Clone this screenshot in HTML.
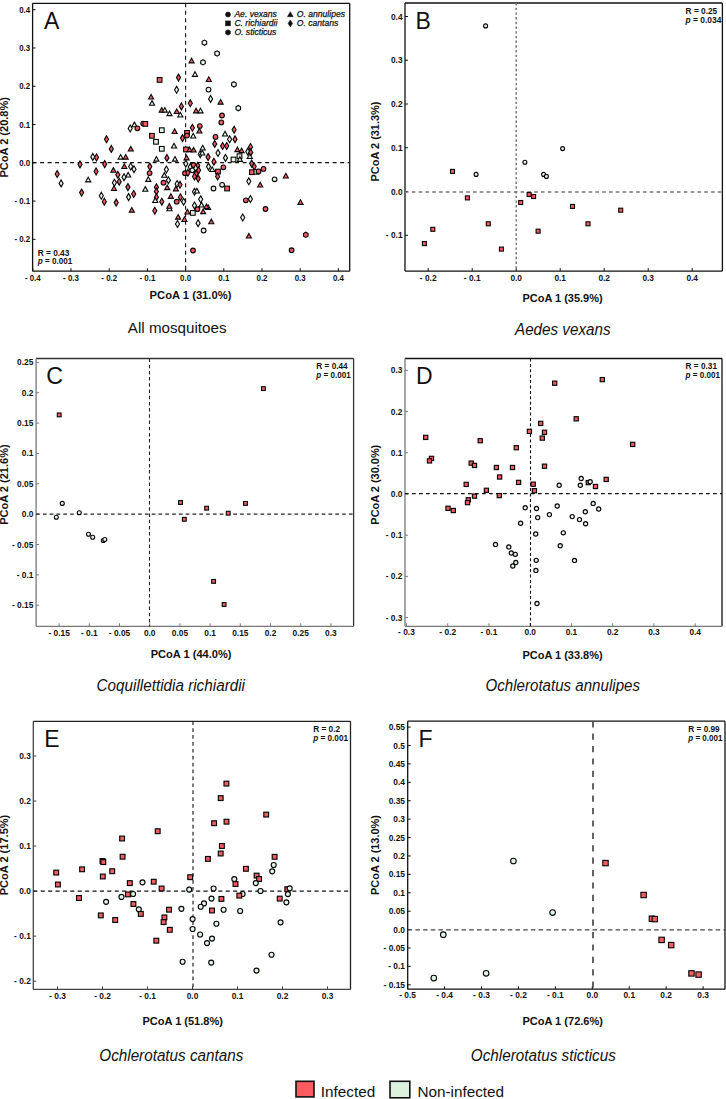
<!DOCTYPE html>
<html><head><meta charset="utf-8"><style>
html,body{margin:0;padding:0;background:#fff;width:726px;height:1099px;overflow:hidden}
svg{display:block;font-family:"Liberation Sans",sans-serif}
</style></head><body>
<svg width="726" height="1099" viewBox="0 0 726 1099">
<rect width="726" height="1099" fill="#fff"/>
<line x1="32.6" y1="3.3" x2="349.7" y2="3.3" stroke="#111" stroke-width="1.3"/>
<line x1="349.7" y1="3.3" x2="349.7" y2="271.2" stroke="#111" stroke-width="1.3"/>
<line x1="32.6" y1="271.2" x2="349.7" y2="271.2" stroke="#111" stroke-width="1.3"/>
<line x1="32.6" y1="3.3" x2="32.6" y2="271.2" stroke="#111" stroke-width="1.3"/>
<line x1="32.8" y1="271.2" x2="32.8" y2="268.2" stroke="#111" stroke-width="1.0"/>
<text transform="translate(32.8,280.9) scale(0.93,1)" font-size="8.5" font-weight="bold" text-anchor="middle" fill="#111">- 0.4</text>
<line x1="71" y1="271.2" x2="71" y2="268.2" stroke="#111" stroke-width="1.0"/>
<text transform="translate(71,280.9) scale(0.93,1)" font-size="8.5" font-weight="bold" text-anchor="middle" fill="#111">- 0.3</text>
<line x1="109.2" y1="271.2" x2="109.2" y2="268.2" stroke="#111" stroke-width="1.0"/>
<text transform="translate(109.2,280.9) scale(0.93,1)" font-size="8.5" font-weight="bold" text-anchor="middle" fill="#111">- 0.2</text>
<line x1="147.4" y1="271.2" x2="147.4" y2="268.2" stroke="#111" stroke-width="1.0"/>
<text transform="translate(147.4,280.9) scale(0.93,1)" font-size="8.5" font-weight="bold" text-anchor="middle" fill="#111">- 0.1</text>
<line x1="185.6" y1="271.2" x2="185.6" y2="268.2" stroke="#111" stroke-width="1.0"/>
<text transform="translate(185.6,280.9) scale(0.93,1)" font-size="8.5" font-weight="bold" text-anchor="middle" fill="#111">0.0</text>
<line x1="223.8" y1="271.2" x2="223.8" y2="268.2" stroke="#111" stroke-width="1.0"/>
<text transform="translate(223.8,280.9) scale(0.93,1)" font-size="8.5" font-weight="bold" text-anchor="middle" fill="#111">0.1</text>
<line x1="262" y1="271.2" x2="262" y2="268.2" stroke="#111" stroke-width="1.0"/>
<text transform="translate(262,280.9) scale(0.93,1)" font-size="8.5" font-weight="bold" text-anchor="middle" fill="#111">0.2</text>
<line x1="300.2" y1="271.2" x2="300.2" y2="268.2" stroke="#111" stroke-width="1.0"/>
<text transform="translate(300.2,280.9) scale(0.93,1)" font-size="8.5" font-weight="bold" text-anchor="middle" fill="#111">0.3</text>
<line x1="338.4" y1="271.2" x2="338.4" y2="268.2" stroke="#111" stroke-width="1.0"/>
<text transform="translate(338.4,280.9) scale(0.93,1)" font-size="8.5" font-weight="bold" text-anchor="middle" fill="#111">0.4</text>
<line x1="32.6" y1="239.34" x2="35.6" y2="239.34" stroke="#111" stroke-width="1.0"/>
<text transform="translate(30.2,242.34) scale(0.93,1)" font-size="8.5" font-weight="bold" text-anchor="end" fill="#111">- 0.2</text>
<line x1="32.6" y1="201.07" x2="35.6" y2="201.07" stroke="#111" stroke-width="1.0"/>
<text transform="translate(30.2,204.07) scale(0.93,1)" font-size="8.5" font-weight="bold" text-anchor="end" fill="#111">- 0.1</text>
<line x1="32.6" y1="162.8" x2="35.6" y2="162.8" stroke="#111" stroke-width="1.0"/>
<text transform="translate(30.2,165.8) scale(0.93,1)" font-size="8.5" font-weight="bold" text-anchor="end" fill="#111">0.0</text>
<line x1="32.6" y1="124.53" x2="35.6" y2="124.53" stroke="#111" stroke-width="1.0"/>
<text transform="translate(30.2,127.53) scale(0.93,1)" font-size="8.5" font-weight="bold" text-anchor="end" fill="#111">0.1</text>
<line x1="32.6" y1="86.26" x2="35.6" y2="86.26" stroke="#111" stroke-width="1.0"/>
<text transform="translate(30.2,89.26) scale(0.93,1)" font-size="8.5" font-weight="bold" text-anchor="end" fill="#111">0.2</text>
<line x1="32.6" y1="47.99" x2="35.6" y2="47.99" stroke="#111" stroke-width="1.0"/>
<text transform="translate(30.2,50.99) scale(0.93,1)" font-size="8.5" font-weight="bold" text-anchor="end" fill="#111">0.3</text>
<line x1="32.6" y1="9.72" x2="35.6" y2="9.72" stroke="#111" stroke-width="1.0"/>
<text transform="translate(30.2,12.72) scale(0.93,1)" font-size="8.5" font-weight="bold" text-anchor="end" fill="#111">0.4</text>
<line x1="185.6" y1="3.3" x2="185.6" y2="271.2" stroke="#111" stroke-width="1.1" stroke-dasharray="4,3.5"/>
<line x1="32.6" y1="162.6" x2="349.7" y2="162.6" stroke="#111" stroke-width="1.1" stroke-dasharray="4,3.5"/>
<text x="43.9" y="28.9" font-size="23" font-weight="normal" font-style="normal" text-anchor="start" fill="#111" >A</text>
<text x="37.7" y="255.8" font-size="8.5" font-weight="bold" fill="#111" textLength="31.7" lengthAdjust="spacingAndGlyphs">R = 0.43</text>
<text x="37.7" y="264.3" font-size="8.5" font-weight="bold" fill="#111" textLength="34.7" lengthAdjust="spacingAndGlyphs"><tspan font-style="italic">p</tspan> = 0.001</text>
<text x="149.6" y="299.3" font-size="10.5" font-weight="bold" fill="#111" textLength="81.8" lengthAdjust="spacingAndGlyphs">PCoA 1 (31.0%)</text>
<text transform="translate(8.3,137.3) rotate(-90)" x="0" y="0" font-size="10.5" font-weight="bold" fill="#111" text-anchor="middle" textLength="80.5" lengthAdjust="spacingAndGlyphs">PCoA 2 (20.8%)</text>
<text x="127.8" y="332.8" font-size="15" font-style="normal" fill="#111" textLength="98.7" lengthAdjust="spacingAndGlyphs">All mosquitoes</text>
<line x1="405.0" y1="3.0" x2="722.4" y2="3.0" stroke="#111" stroke-width="1.3"/>
<line x1="722.4" y1="3.0" x2="722.4" y2="271.1" stroke="#111" stroke-width="1.3"/>
<line x1="405.0" y1="271.1" x2="722.4" y2="271.1" stroke="#111" stroke-width="1.3"/>
<line x1="405.0" y1="3.0" x2="405.0" y2="271.1" stroke="#111" stroke-width="1.3"/>
<line x1="428.2" y1="271.1" x2="428.2" y2="268.1" stroke="#111" stroke-width="1.0"/>
<text transform="translate(428.2,280.5) scale(0.93,1)" font-size="9.0" font-weight="bold" text-anchor="middle" fill="#111">- 0.2</text>
<line x1="472.2" y1="271.1" x2="472.2" y2="268.1" stroke="#111" stroke-width="1.0"/>
<text transform="translate(472.2,280.5) scale(0.93,1)" font-size="9.0" font-weight="bold" text-anchor="middle" fill="#111">- 0.1</text>
<line x1="516.2" y1="271.1" x2="516.2" y2="268.1" stroke="#111" stroke-width="1.0"/>
<text transform="translate(516.2,280.5) scale(0.93,1)" font-size="9.0" font-weight="bold" text-anchor="middle" fill="#111">0.0</text>
<line x1="560.2" y1="271.1" x2="560.2" y2="268.1" stroke="#111" stroke-width="1.0"/>
<text transform="translate(560.2,280.5) scale(0.93,1)" font-size="9.0" font-weight="bold" text-anchor="middle" fill="#111">0.1</text>
<line x1="604.2" y1="271.1" x2="604.2" y2="268.1" stroke="#111" stroke-width="1.0"/>
<text transform="translate(604.2,280.5) scale(0.93,1)" font-size="9.0" font-weight="bold" text-anchor="middle" fill="#111">0.2</text>
<line x1="648.2" y1="271.1" x2="648.2" y2="268.1" stroke="#111" stroke-width="1.0"/>
<text transform="translate(648.2,280.5) scale(0.93,1)" font-size="9.0" font-weight="bold" text-anchor="middle" fill="#111">0.3</text>
<line x1="692.2" y1="271.1" x2="692.2" y2="268.1" stroke="#111" stroke-width="1.0"/>
<text transform="translate(692.2,280.5) scale(0.93,1)" font-size="9.0" font-weight="bold" text-anchor="middle" fill="#111">0.4</text>
<line x1="405.0" y1="235.25" x2="408" y2="235.25" stroke="#111" stroke-width="1.0"/>
<text transform="translate(402.6,238.25) scale(0.93,1)" font-size="9.0" font-weight="bold" text-anchor="end" fill="#111">- 0.1</text>
<line x1="405.0" y1="191.5" x2="408" y2="191.5" stroke="#111" stroke-width="1.0"/>
<text transform="translate(402.6,194.5) scale(0.93,1)" font-size="9.0" font-weight="bold" text-anchor="end" fill="#111">0.0</text>
<line x1="405.0" y1="147.75" x2="408" y2="147.75" stroke="#111" stroke-width="1.0"/>
<text transform="translate(402.6,150.75) scale(0.93,1)" font-size="9.0" font-weight="bold" text-anchor="end" fill="#111">0.1</text>
<line x1="405.0" y1="104" x2="408" y2="104" stroke="#111" stroke-width="1.0"/>
<text transform="translate(402.6,107) scale(0.93,1)" font-size="9.0" font-weight="bold" text-anchor="end" fill="#111">0.2</text>
<line x1="405.0" y1="60.25" x2="408" y2="60.25" stroke="#111" stroke-width="1.0"/>
<text transform="translate(402.6,63.25) scale(0.93,1)" font-size="9.0" font-weight="bold" text-anchor="end" fill="#111">0.3</text>
<line x1="405.0" y1="16.5" x2="408" y2="16.5" stroke="#111" stroke-width="1.0"/>
<text transform="translate(402.6,19.5) scale(0.93,1)" font-size="9.0" font-weight="bold" text-anchor="end" fill="#111">0.4</text>
<line x1="516.2" y1="3.0" x2="516.2" y2="271.1" stroke="#777" stroke-width="1.5" stroke-dasharray="2.4,2.3"/>
<line x1="405.0" y1="192" x2="722.4" y2="192" stroke="#777" stroke-width="1.6" stroke-dasharray="3.6,3.2"/>
<text x="415.6" y="28.9" font-size="23" font-weight="normal" font-style="normal" text-anchor="start" fill="#111" >B</text>
<text x="685.6" y="13.8" font-size="8.5" font-weight="bold" fill="#111" textLength="31.6" lengthAdjust="spacingAndGlyphs">R = 0.25</text>
<text x="685.6" y="22.7" font-size="8.5" font-weight="bold" fill="#111" textLength="35.8" lengthAdjust="spacingAndGlyphs"><tspan font-style="italic">p</tspan> = 0.034</text>
<text x="522.4" y="301.6" font-size="10.5" font-weight="bold" fill="#111" textLength="80.3" lengthAdjust="spacingAndGlyphs">PCoA 1 (35.9%)</text>
<text transform="translate(378.6,141.5) rotate(-90)" x="0" y="0" font-size="10.5" font-weight="bold" fill="#111" text-anchor="middle" textLength="79.9" lengthAdjust="spacingAndGlyphs">PCoA 2 (31.3%)</text>
<text x="515" y="335.3" font-size="16.3" font-style="italic" fill="#111" textLength="95.5" lengthAdjust="spacingAndGlyphs">Aedes vexans</text>
<line x1="36.1" y1="358.5" x2="353.6" y2="358.5" stroke="#333" stroke-width="1.3"/>
<line x1="353.6" y1="358.5" x2="353.6" y2="626.3" stroke="#333" stroke-width="1.3"/>
<line x1="36.1" y1="626.3" x2="353.6" y2="626.3" stroke="#777" stroke-width="1.3"/>
<line x1="36.1" y1="358.5" x2="36.1" y2="626.3" stroke="#777" stroke-width="1.3"/>
<line x1="59.1" y1="626.3" x2="59.1" y2="623.3" stroke="#777" stroke-width="1.0"/>
<text transform="translate(59.1,635.5) scale(0.93,1)" font-size="9.0" font-weight="bold" text-anchor="middle" fill="#111">- 0.15</text>
<line x1="89.3" y1="626.3" x2="89.3" y2="623.3" stroke="#777" stroke-width="1.0"/>
<text transform="translate(89.3,635.5) scale(0.93,1)" font-size="9.0" font-weight="bold" text-anchor="middle" fill="#111">- 0.1</text>
<line x1="119.5" y1="626.3" x2="119.5" y2="623.3" stroke="#777" stroke-width="1.0"/>
<text transform="translate(119.5,635.5) scale(0.93,1)" font-size="9.0" font-weight="bold" text-anchor="middle" fill="#111">- 0.05</text>
<line x1="149.7" y1="626.3" x2="149.7" y2="623.3" stroke="#777" stroke-width="1.0"/>
<text transform="translate(149.7,635.5) scale(0.93,1)" font-size="9.0" font-weight="bold" text-anchor="middle" fill="#111">0.0</text>
<line x1="179.9" y1="626.3" x2="179.9" y2="623.3" stroke="#777" stroke-width="1.0"/>
<text transform="translate(179.9,635.5) scale(0.93,1)" font-size="9.0" font-weight="bold" text-anchor="middle" fill="#111">0.05</text>
<line x1="210.1" y1="626.3" x2="210.1" y2="623.3" stroke="#777" stroke-width="1.0"/>
<text transform="translate(210.1,635.5) scale(0.93,1)" font-size="9.0" font-weight="bold" text-anchor="middle" fill="#111">0.1</text>
<line x1="240.3" y1="626.3" x2="240.3" y2="623.3" stroke="#777" stroke-width="1.0"/>
<text transform="translate(240.3,635.5) scale(0.93,1)" font-size="9.0" font-weight="bold" text-anchor="middle" fill="#111">0.15</text>
<line x1="270.5" y1="626.3" x2="270.5" y2="623.3" stroke="#777" stroke-width="1.0"/>
<text transform="translate(270.5,635.5) scale(0.93,1)" font-size="9.0" font-weight="bold" text-anchor="middle" fill="#111">0.2</text>
<line x1="300.7" y1="626.3" x2="300.7" y2="623.3" stroke="#777" stroke-width="1.0"/>
<text transform="translate(300.7,635.5) scale(0.93,1)" font-size="9.0" font-weight="bold" text-anchor="middle" fill="#111">0.25</text>
<line x1="330.9" y1="626.3" x2="330.9" y2="623.3" stroke="#777" stroke-width="1.0"/>
<text transform="translate(330.9,635.5) scale(0.93,1)" font-size="9.0" font-weight="bold" text-anchor="middle" fill="#111">0.3</text>
<line x1="36.1" y1="605.2" x2="39.1" y2="605.2" stroke="#777" stroke-width="1.0"/>
<text transform="translate(33.4,608.2) scale(0.93,1)" font-size="9.0" font-weight="bold" text-anchor="end" fill="#111">- 0.15</text>
<line x1="36.1" y1="574.85" x2="39.1" y2="574.85" stroke="#777" stroke-width="1.0"/>
<text transform="translate(33.4,577.85) scale(0.93,1)" font-size="9.0" font-weight="bold" text-anchor="end" fill="#111">- 0.1</text>
<line x1="36.1" y1="544.5" x2="39.1" y2="544.5" stroke="#777" stroke-width="1.0"/>
<text transform="translate(33.4,547.5) scale(0.93,1)" font-size="9.0" font-weight="bold" text-anchor="end" fill="#111">- 0.05</text>
<line x1="36.1" y1="514.15" x2="39.1" y2="514.15" stroke="#777" stroke-width="1.0"/>
<text transform="translate(33.4,517.15) scale(0.93,1)" font-size="9.0" font-weight="bold" text-anchor="end" fill="#111">0.0</text>
<line x1="36.1" y1="483.8" x2="39.1" y2="483.8" stroke="#777" stroke-width="1.0"/>
<text transform="translate(33.4,486.8) scale(0.93,1)" font-size="9.0" font-weight="bold" text-anchor="end" fill="#111">0.05</text>
<line x1="36.1" y1="453.45" x2="39.1" y2="453.45" stroke="#777" stroke-width="1.0"/>
<text transform="translate(33.4,456.45) scale(0.93,1)" font-size="9.0" font-weight="bold" text-anchor="end" fill="#111">0.1</text>
<line x1="36.1" y1="423.1" x2="39.1" y2="423.1" stroke="#777" stroke-width="1.0"/>
<text transform="translate(33.4,426.1) scale(0.93,1)" font-size="9.0" font-weight="bold" text-anchor="end" fill="#111">0.15</text>
<line x1="36.1" y1="392.75" x2="39.1" y2="392.75" stroke="#777" stroke-width="1.0"/>
<text transform="translate(33.4,395.75) scale(0.93,1)" font-size="9.0" font-weight="bold" text-anchor="end" fill="#111">0.2</text>
<line x1="36.1" y1="362.4" x2="39.1" y2="362.4" stroke="#777" stroke-width="1.0"/>
<text transform="translate(33.4,365.4) scale(0.93,1)" font-size="9.0" font-weight="bold" text-anchor="end" fill="#111">0.25</text>
<line x1="149.5" y1="358.5" x2="149.5" y2="626.3" stroke="#222" stroke-width="1.1" stroke-dasharray="3.5,2.7"/>
<line x1="36.1" y1="514.1" x2="353.6" y2="514.1" stroke="#222" stroke-width="1.1" stroke-dasharray="3.7,3.1"/>
<text x="46.3" y="384.2" font-size="23.2" font-weight="normal" font-style="normal" text-anchor="start" fill="#111" >C</text>
<text x="316.3" y="368.9" font-size="8.5" font-weight="bold" fill="#111" textLength="31.4" lengthAdjust="spacingAndGlyphs">R = 0.44</text>
<text x="316.3" y="378.4" font-size="8.5" font-weight="bold" fill="#111" textLength="34.5" lengthAdjust="spacingAndGlyphs"><tspan font-style="italic">p</tspan> = 0.001</text>
<text x="150.7" y="658.4" font-size="10.5" font-weight="bold" fill="#111" textLength="80.8" lengthAdjust="spacingAndGlyphs">PCoA 1 (44.0%)</text>
<text transform="translate(8.3,484.6) rotate(-90)" x="0" y="0" font-size="10.5" font-weight="bold" fill="#111" text-anchor="middle" textLength="80.5" lengthAdjust="spacingAndGlyphs">PCoA 2 (21.6%)</text>
<text x="96.5" y="691.2" font-size="16.3" font-style="italic" fill="#111" textLength="148.5" lengthAdjust="spacingAndGlyphs">Coquillettidia richiardii</text>
<line x1="405.0" y1="358.5" x2="722.0" y2="358.5" stroke="#111" stroke-width="1.3"/>
<line x1="722.0" y1="358.5" x2="722.0" y2="626.3" stroke="#111" stroke-width="1.3"/>
<line x1="405.0" y1="626.3" x2="722.0" y2="626.3" stroke="#777" stroke-width="1.3"/>
<line x1="405.0" y1="358.5" x2="405.0" y2="626.3" stroke="#777" stroke-width="1.3"/>
<line x1="406.45" y1="626.3" x2="406.45" y2="623.3" stroke="#777" stroke-width="1.0"/>
<text transform="translate(406.45,634.9) scale(0.93,1)" font-size="9.0" font-weight="bold" text-anchor="middle" fill="#111">- 0.3</text>
<line x1="447.7" y1="626.3" x2="447.7" y2="623.3" stroke="#777" stroke-width="1.0"/>
<text transform="translate(447.7,634.9) scale(0.93,1)" font-size="9.0" font-weight="bold" text-anchor="middle" fill="#111">- 0.2</text>
<line x1="488.95" y1="626.3" x2="488.95" y2="623.3" stroke="#777" stroke-width="1.0"/>
<text transform="translate(488.95,634.9) scale(0.93,1)" font-size="9.0" font-weight="bold" text-anchor="middle" fill="#111">- 0.1</text>
<line x1="530.2" y1="626.3" x2="530.2" y2="623.3" stroke="#777" stroke-width="1.0"/>
<text transform="translate(530.2,634.9) scale(0.93,1)" font-size="9.0" font-weight="bold" text-anchor="middle" fill="#111">0.0</text>
<line x1="571.45" y1="626.3" x2="571.45" y2="623.3" stroke="#777" stroke-width="1.0"/>
<text transform="translate(571.45,634.9) scale(0.93,1)" font-size="9.0" font-weight="bold" text-anchor="middle" fill="#111">0.1</text>
<line x1="612.7" y1="626.3" x2="612.7" y2="623.3" stroke="#777" stroke-width="1.0"/>
<text transform="translate(612.7,634.9) scale(0.93,1)" font-size="9.0" font-weight="bold" text-anchor="middle" fill="#111">0.2</text>
<line x1="653.95" y1="626.3" x2="653.95" y2="623.3" stroke="#777" stroke-width="1.0"/>
<text transform="translate(653.95,634.9) scale(0.93,1)" font-size="9.0" font-weight="bold" text-anchor="middle" fill="#111">0.3</text>
<line x1="695.2" y1="626.3" x2="695.2" y2="623.3" stroke="#777" stroke-width="1.0"/>
<text transform="translate(695.2,634.9) scale(0.93,1)" font-size="9.0" font-weight="bold" text-anchor="middle" fill="#111">0.4</text>
<line x1="405.0" y1="617.55" x2="408" y2="617.55" stroke="#777" stroke-width="1.0"/>
<text transform="translate(402.4,620.55) scale(0.93,1)" font-size="9.0" font-weight="bold" text-anchor="end" fill="#111">- 0.3</text>
<line x1="405.0" y1="576.35" x2="408" y2="576.35" stroke="#777" stroke-width="1.0"/>
<text transform="translate(402.4,579.35) scale(0.93,1)" font-size="9.0" font-weight="bold" text-anchor="end" fill="#111">- 0.2</text>
<line x1="405.0" y1="535.15" x2="408" y2="535.15" stroke="#777" stroke-width="1.0"/>
<text transform="translate(402.4,538.15) scale(0.93,1)" font-size="9.0" font-weight="bold" text-anchor="end" fill="#111">- 0.1</text>
<line x1="405.0" y1="493.95" x2="408" y2="493.95" stroke="#777" stroke-width="1.0"/>
<text transform="translate(402.4,496.95) scale(0.93,1)" font-size="9.0" font-weight="bold" text-anchor="end" fill="#111">0.0</text>
<line x1="405.0" y1="452.75" x2="408" y2="452.75" stroke="#777" stroke-width="1.0"/>
<text transform="translate(402.4,455.75) scale(0.93,1)" font-size="9.0" font-weight="bold" text-anchor="end" fill="#111">0.1</text>
<line x1="405.0" y1="411.55" x2="408" y2="411.55" stroke="#777" stroke-width="1.0"/>
<text transform="translate(402.4,414.55) scale(0.93,1)" font-size="9.0" font-weight="bold" text-anchor="end" fill="#111">0.2</text>
<line x1="405.0" y1="370.35" x2="408" y2="370.35" stroke="#777" stroke-width="1.0"/>
<text transform="translate(402.4,373.35) scale(0.93,1)" font-size="9.0" font-weight="bold" text-anchor="end" fill="#111">0.3</text>
<line x1="530.5" y1="358.5" x2="530.5" y2="626.3" stroke="#111" stroke-width="1.1" stroke-dasharray="3,2.4"/>
<line x1="405.0" y1="493.6" x2="722.0" y2="493.6" stroke="#111" stroke-width="1.1" stroke-dasharray="3.7,3.3"/>
<text x="416" y="383.9" font-size="23" font-weight="normal" font-style="normal" text-anchor="start" fill="#111" >D</text>
<text x="685.6" y="368.9" font-size="8.5" font-weight="bold" fill="#111" textLength="31.4" lengthAdjust="spacingAndGlyphs">R = 0.31</text>
<text x="685.6" y="378.4" font-size="8.5" font-weight="bold" fill="#111" textLength="34.5" lengthAdjust="spacingAndGlyphs"><tspan font-style="italic">p</tspan> = 0.001</text>
<text x="522.4" y="658.5" font-size="10.5" font-weight="bold" fill="#111" textLength="80.3" lengthAdjust="spacingAndGlyphs">PCoA 1 (33.8%)</text>
<text transform="translate(378.6,484.7) rotate(-90)" x="0" y="0" font-size="10.5" font-weight="bold" fill="#111" text-anchor="middle" textLength="79.9" lengthAdjust="spacingAndGlyphs">PCoA 2 (30.0%)</text>
<text x="485.5" y="691.2" font-size="16.3" font-style="italic" fill="#111" textLength="154.5" lengthAdjust="spacingAndGlyphs">Ochlerotatus annulipes</text>
<line x1="33.3" y1="721.3" x2="350.5" y2="721.3" stroke="#222" stroke-width="1.3"/>
<line x1="350.5" y1="721.3" x2="350.5" y2="989.4" stroke="#222" stroke-width="1.3"/>
<line x1="33.3" y1="989.4" x2="350.5" y2="989.4" stroke="#444" stroke-width="1.3"/>
<line x1="33.3" y1="721.3" x2="33.3" y2="989.4" stroke="#444" stroke-width="1.3"/>
<line x1="57.5" y1="989.4" x2="57.5" y2="986.4" stroke="#444" stroke-width="1.0"/>
<text transform="translate(57.5,998.8) scale(0.93,1)" font-size="9.0" font-weight="bold" text-anchor="middle" fill="#111">- 0.3</text>
<line x1="102.5" y1="989.4" x2="102.5" y2="986.4" stroke="#444" stroke-width="1.0"/>
<text transform="translate(102.5,998.8) scale(0.93,1)" font-size="9.0" font-weight="bold" text-anchor="middle" fill="#111">- 0.2</text>
<line x1="147.5" y1="989.4" x2="147.5" y2="986.4" stroke="#444" stroke-width="1.0"/>
<text transform="translate(147.5,998.8) scale(0.93,1)" font-size="9.0" font-weight="bold" text-anchor="middle" fill="#111">- 0.1</text>
<line x1="192.5" y1="989.4" x2="192.5" y2="986.4" stroke="#444" stroke-width="1.0"/>
<text transform="translate(192.5,998.8) scale(0.93,1)" font-size="9.0" font-weight="bold" text-anchor="middle" fill="#111">0.0</text>
<line x1="237.5" y1="989.4" x2="237.5" y2="986.4" stroke="#444" stroke-width="1.0"/>
<text transform="translate(237.5,998.8) scale(0.93,1)" font-size="9.0" font-weight="bold" text-anchor="middle" fill="#111">0.1</text>
<line x1="282.5" y1="989.4" x2="282.5" y2="986.4" stroke="#444" stroke-width="1.0"/>
<text transform="translate(282.5,998.8) scale(0.93,1)" font-size="9.0" font-weight="bold" text-anchor="middle" fill="#111">0.2</text>
<line x1="327.5" y1="989.4" x2="327.5" y2="986.4" stroke="#444" stroke-width="1.0"/>
<text transform="translate(327.5,998.8) scale(0.93,1)" font-size="9.0" font-weight="bold" text-anchor="middle" fill="#111">0.3</text>
<line x1="33.3" y1="981.18" x2="36.3" y2="981.18" stroke="#444" stroke-width="1.0"/>
<text transform="translate(30.8,984.18) scale(0.93,1)" font-size="9.0" font-weight="bold" text-anchor="end" fill="#111">- 0.2</text>
<line x1="33.3" y1="936.14" x2="36.3" y2="936.14" stroke="#444" stroke-width="1.0"/>
<text transform="translate(30.8,939.14) scale(0.93,1)" font-size="9.0" font-weight="bold" text-anchor="end" fill="#111">- 0.1</text>
<line x1="33.3" y1="891.1" x2="36.3" y2="891.1" stroke="#444" stroke-width="1.0"/>
<text transform="translate(30.8,894.1) scale(0.93,1)" font-size="9.0" font-weight="bold" text-anchor="end" fill="#111">0.0</text>
<line x1="33.3" y1="846.06" x2="36.3" y2="846.06" stroke="#444" stroke-width="1.0"/>
<text transform="translate(30.8,849.06) scale(0.93,1)" font-size="9.0" font-weight="bold" text-anchor="end" fill="#111">0.1</text>
<line x1="33.3" y1="801.02" x2="36.3" y2="801.02" stroke="#444" stroke-width="1.0"/>
<text transform="translate(30.8,804.02) scale(0.93,1)" font-size="9.0" font-weight="bold" text-anchor="end" fill="#111">0.2</text>
<line x1="33.3" y1="755.98" x2="36.3" y2="755.98" stroke="#444" stroke-width="1.0"/>
<text transform="translate(30.8,758.98) scale(0.93,1)" font-size="9.0" font-weight="bold" text-anchor="end" fill="#111">0.3</text>
<line x1="193" y1="721.3" x2="193" y2="989.4" stroke="#111" stroke-width="1.1" stroke-dasharray="3.7,3.2"/>
<line x1="33.3" y1="891.1" x2="350.5" y2="891.1" stroke="#111" stroke-width="1.1" stroke-dasharray="4.1,3.3"/>
<text x="44.2" y="747.2" font-size="23" font-weight="normal" font-style="normal" text-anchor="start" fill="#111" >E</text>
<text x="313.2" y="731.7" font-size="8.5" font-weight="bold" fill="#111" textLength="26.9" lengthAdjust="spacingAndGlyphs">R = 0.2</text>
<text x="313.2" y="741.2" font-size="8.5" font-weight="bold" fill="#111" textLength="34.8" lengthAdjust="spacingAndGlyphs"><tspan font-style="italic">p</tspan> = 0.001</text>
<text x="142.5" y="1025" font-size="10.5" font-weight="bold" fill="#111" textLength="80.4" lengthAdjust="spacingAndGlyphs">PCoA 1 (51.8%)</text>
<text transform="translate(8.3,855) rotate(-90)" x="0" y="0" font-size="10.5" font-weight="bold" fill="#111" text-anchor="middle" textLength="80.5" lengthAdjust="spacingAndGlyphs">PCoA 2 (17.5%)</text>
<text x="99.3" y="1060.8999999999999" font-size="16.3" font-style="italic" fill="#111" textLength="144" lengthAdjust="spacingAndGlyphs">Ochlerotatus cantans</text>
<line x1="407.7" y1="721.2" x2="725" y2="721.2" stroke="#111" stroke-width="1.3"/>
<line x1="725" y1="721.2" x2="725" y2="989.2" stroke="#111" stroke-width="1.3"/>
<line x1="407.7" y1="989.2" x2="725" y2="989.2" stroke="#111" stroke-width="1.3"/>
<line x1="407.7" y1="721.2" x2="407.7" y2="989.2" stroke="#111" stroke-width="1.3"/>
<line x1="407.6" y1="989.2" x2="407.6" y2="986.2" stroke="#111" stroke-width="1.0"/>
<text transform="translate(407.6,998.4) scale(0.93,1)" font-size="9.0" font-weight="bold" text-anchor="middle" fill="#111">- 0.5</text>
<line x1="444.54" y1="989.2" x2="444.54" y2="986.2" stroke="#111" stroke-width="1.0"/>
<text transform="translate(444.54,998.4) scale(0.93,1)" font-size="9.0" font-weight="bold" text-anchor="middle" fill="#111">- 0.4</text>
<line x1="481.48" y1="989.2" x2="481.48" y2="986.2" stroke="#111" stroke-width="1.0"/>
<text transform="translate(481.48,998.4) scale(0.93,1)" font-size="9.0" font-weight="bold" text-anchor="middle" fill="#111">- 0.3</text>
<line x1="518.42" y1="989.2" x2="518.42" y2="986.2" stroke="#111" stroke-width="1.0"/>
<text transform="translate(518.42,998.4) scale(0.93,1)" font-size="9.0" font-weight="bold" text-anchor="middle" fill="#111">- 0.2</text>
<line x1="555.36" y1="989.2" x2="555.36" y2="986.2" stroke="#111" stroke-width="1.0"/>
<text transform="translate(555.36,998.4) scale(0.93,1)" font-size="9.0" font-weight="bold" text-anchor="middle" fill="#111">- 0.1</text>
<line x1="592.3" y1="989.2" x2="592.3" y2="986.2" stroke="#111" stroke-width="1.0"/>
<text transform="translate(592.3,998.4) scale(0.93,1)" font-size="9.0" font-weight="bold" text-anchor="middle" fill="#111">0.0</text>
<line x1="629.24" y1="989.2" x2="629.24" y2="986.2" stroke="#111" stroke-width="1.0"/>
<text transform="translate(629.24,998.4) scale(0.93,1)" font-size="9.0" font-weight="bold" text-anchor="middle" fill="#111">0.1</text>
<line x1="666.18" y1="989.2" x2="666.18" y2="986.2" stroke="#111" stroke-width="1.0"/>
<text transform="translate(666.18,998.4) scale(0.93,1)" font-size="9.0" font-weight="bold" text-anchor="middle" fill="#111">0.2</text>
<line x1="703.12" y1="989.2" x2="703.12" y2="986.2" stroke="#111" stroke-width="1.0"/>
<text transform="translate(703.12,998.4) scale(0.93,1)" font-size="9.0" font-weight="bold" text-anchor="middle" fill="#111">0.3</text>
<line x1="407.7" y1="984.83" x2="410.7" y2="984.83" stroke="#111" stroke-width="1.0"/>
<text transform="translate(405.0,987.83) scale(0.93,1)" font-size="9.0" font-weight="bold" text-anchor="end" fill="#111">- 0.15</text>
<line x1="407.7" y1="966.42" x2="410.7" y2="966.42" stroke="#111" stroke-width="1.0"/>
<text transform="translate(405.0,969.42) scale(0.93,1)" font-size="9.0" font-weight="bold" text-anchor="end" fill="#111">- 0.1</text>
<line x1="407.7" y1="948.01" x2="410.7" y2="948.01" stroke="#111" stroke-width="1.0"/>
<text transform="translate(405.0,951.01) scale(0.93,1)" font-size="9.0" font-weight="bold" text-anchor="end" fill="#111">- 0.05</text>
<line x1="407.7" y1="929.6" x2="410.7" y2="929.6" stroke="#111" stroke-width="1.0"/>
<text transform="translate(405.0,932.6) scale(0.93,1)" font-size="9.0" font-weight="bold" text-anchor="end" fill="#111">0.0</text>
<line x1="407.7" y1="911.19" x2="410.7" y2="911.19" stroke="#111" stroke-width="1.0"/>
<text transform="translate(405.0,914.19) scale(0.93,1)" font-size="9.0" font-weight="bold" text-anchor="end" fill="#111">0.05</text>
<line x1="407.7" y1="892.78" x2="410.7" y2="892.78" stroke="#111" stroke-width="1.0"/>
<text transform="translate(405.0,895.78) scale(0.93,1)" font-size="9.0" font-weight="bold" text-anchor="end" fill="#111">0.1</text>
<line x1="407.7" y1="874.37" x2="410.7" y2="874.37" stroke="#111" stroke-width="1.0"/>
<text transform="translate(405.0,877.37) scale(0.93,1)" font-size="9.0" font-weight="bold" text-anchor="end" fill="#111">0.15</text>
<line x1="407.7" y1="855.96" x2="410.7" y2="855.96" stroke="#111" stroke-width="1.0"/>
<text transform="translate(405.0,858.96) scale(0.93,1)" font-size="9.0" font-weight="bold" text-anchor="end" fill="#111">0.2</text>
<line x1="407.7" y1="837.55" x2="410.7" y2="837.55" stroke="#111" stroke-width="1.0"/>
<text transform="translate(405.0,840.55) scale(0.93,1)" font-size="9.0" font-weight="bold" text-anchor="end" fill="#111">0.25</text>
<line x1="407.7" y1="819.14" x2="410.7" y2="819.14" stroke="#111" stroke-width="1.0"/>
<text transform="translate(405.0,822.14) scale(0.93,1)" font-size="9.0" font-weight="bold" text-anchor="end" fill="#111">0.3</text>
<line x1="407.7" y1="800.73" x2="410.7" y2="800.73" stroke="#111" stroke-width="1.0"/>
<text transform="translate(405.0,803.73) scale(0.93,1)" font-size="9.0" font-weight="bold" text-anchor="end" fill="#111">0.35</text>
<line x1="407.7" y1="782.32" x2="410.7" y2="782.32" stroke="#111" stroke-width="1.0"/>
<text transform="translate(405.0,785.32) scale(0.93,1)" font-size="9.0" font-weight="bold" text-anchor="end" fill="#111">0.4</text>
<line x1="407.7" y1="763.91" x2="410.7" y2="763.91" stroke="#111" stroke-width="1.0"/>
<text transform="translate(405.0,766.91) scale(0.93,1)" font-size="9.0" font-weight="bold" text-anchor="end" fill="#111">0.45</text>
<line x1="407.7" y1="745.5" x2="410.7" y2="745.5" stroke="#111" stroke-width="1.0"/>
<text transform="translate(405.0,748.5) scale(0.93,1)" font-size="9.0" font-weight="bold" text-anchor="end" fill="#111">0.5</text>
<line x1="407.7" y1="727.09" x2="410.7" y2="727.09" stroke="#111" stroke-width="1.0"/>
<text transform="translate(405.0,730.09) scale(0.93,1)" font-size="9.0" font-weight="bold" text-anchor="end" fill="#111">0.55</text>
<line x1="593" y1="721.2" x2="593" y2="989.2" stroke="#444" stroke-width="1.65" stroke-dasharray="6.2,6.2"/>
<line x1="407.7" y1="929.8" x2="725" y2="929.8" stroke="#444" stroke-width="1.25" stroke-dasharray="4.5,3.2"/>
<text x="418.6" y="747.4" font-size="23" font-weight="normal" font-style="normal" text-anchor="start" fill="#111" >F</text>
<text x="688.3" y="732" font-size="8.5" font-weight="bold" fill="#111" textLength="31.4" lengthAdjust="spacingAndGlyphs">R = 0.99</text>
<text x="688.3" y="741.2" font-size="8.5" font-weight="bold" fill="#111" textLength="34.1" lengthAdjust="spacingAndGlyphs"><tspan font-style="italic">p</tspan> = 0.001</text>
<text x="522.4" y="1025" font-size="10.5" font-weight="bold" fill="#111" textLength="80.6" lengthAdjust="spacingAndGlyphs">PCoA 1 (72.6%)</text>
<text transform="translate(378.6,855) rotate(-90)" x="0" y="0" font-size="10.5" font-weight="bold" fill="#111" text-anchor="middle" textLength="79.9" lengthAdjust="spacingAndGlyphs">PCoA 2 (13.0%)</text>
<text x="470.8" y="1060.8999999999999" font-size="16.3" font-style="italic" fill="#111" textLength="145" lengthAdjust="spacingAndGlyphs">Ochlerotatus sticticus</text>
<polygon points="130.2,125.05 132.25,128.5 130.2,131.95 128.15,128.5" fill="#e4f5e5" stroke="#050505" stroke-width="1.1"/>
<polygon points="134.4,122.13 136.95,126.73 131.85,126.73" fill="#e4f5e5" stroke="#050505" stroke-width="1.1"/>
<circle cx="137.4" cy="128.3" r="2.35" fill="#f25c62" stroke="#050505" stroke-width="1.1"/>
<polygon points="106.5,135.85 108.55,139.3 106.5,142.75 104.45,139.3" fill="#f25c62" stroke="#050505" stroke-width="1.1"/>
<polygon points="111.3,145.45 113.35,148.9 111.3,152.35 109.25,148.9" fill="#f25c62" stroke="#050505" stroke-width="1.1"/>
<polygon points="130.8,146.43 133.35,151.03 128.25,151.03" fill="#f25c62" stroke="#050505" stroke-width="1.1"/>
<polygon points="92.8,153.45 94.85,156.9 92.8,160.35 90.75,156.9" fill="#e4f5e5" stroke="#050505" stroke-width="1.1"/>
<polygon points="96.5,154.05 98.55,157.5 96.5,160.95 94.45,157.5" fill="#f25c62" stroke="#050505" stroke-width="1.1"/>
<polygon points="120.6,154.53 123.15,159.13 118.05,159.13" fill="#e4f5e5" stroke="#050505" stroke-width="1.1"/>
<polygon points="125.7,154.53 128.25,159.13 123.15,159.13" fill="#f25c62" stroke="#050505" stroke-width="1.1"/>
<polygon points="80,160.95 82.05,164.4 80,167.85 77.95,164.4" fill="#f25c62" stroke="#050505" stroke-width="1.1"/>
<polygon points="104.7,160.65 106.75,164.1 104.7,167.55 102.65,164.1" fill="#f25c62" stroke="#050505" stroke-width="1.1"/>
<polygon points="124.3,163.93 126.85,168.53 121.75,168.53" fill="#f25c62" stroke="#050505" stroke-width="1.1"/>
<polygon points="130.7,163.05 132.75,166.5 130.7,169.95 128.65,166.5" fill="#e4f5e5" stroke="#050505" stroke-width="1.1"/>
<polygon points="134,165.75 136.05,169.2 134,172.65 131.95,169.2" fill="#e4f5e5" stroke="#050505" stroke-width="1.1"/>
<polygon points="57.2,170.55 59.25,174 57.2,177.45 55.15,174" fill="#f25c62" stroke="#050505" stroke-width="1.1"/>
<polygon points="96.1,167.95 98.15,171.4 96.1,174.85 94.05,171.4" fill="#f25c62" stroke="#050505" stroke-width="1.1"/>
<polygon points="113.4,167.63 115.95,172.23 110.85,172.23" fill="#f25c62" stroke="#050505" stroke-width="1.1"/>
<polygon points="117.8,171.25 119.85,174.7 117.8,178.15 115.75,174.7" fill="#f25c62" stroke="#050505" stroke-width="1.1"/>
<polygon points="124,173.75 126.05,177.2 124,180.65 121.95,177.2" fill="#e4f5e5" stroke="#050505" stroke-width="1.1"/>
<polygon points="128.2,172.43 130.75,177.03 125.65,177.03" fill="#e4f5e5" stroke="#050505" stroke-width="1.1"/>
<polygon points="88.2,177.23 90.75,181.83 85.65,181.83" fill="#e4f5e5" stroke="#050505" stroke-width="1.1"/>
<polygon points="61.1,179.95 63.15,183.4 61.1,186.85 59.05,183.4" fill="#e4f5e5" stroke="#050505" stroke-width="1.1"/>
<polygon points="114.4,179.25 116.45,182.7 114.4,186.15 112.35,182.7" fill="#e4f5e5" stroke="#050505" stroke-width="1.1"/>
<polygon points="119.2,178.25 121.25,181.7 119.2,185.15 117.15,181.7" fill="#f25c62" stroke="#050505" stroke-width="1.1"/>
<polygon points="114,185.83 116.55,190.43 111.45,190.43" fill="#f25c62" stroke="#050505" stroke-width="1.1"/>
<polygon points="127.9,183.65 129.95,187.1 127.9,190.55 125.85,187.1" fill="#f25c62" stroke="#050505" stroke-width="1.1"/>
<polygon points="81.6,189.15 83.65,192.6 81.6,196.05 79.55,192.6" fill="#f25c62" stroke="#050505" stroke-width="1.1"/>
<polygon points="133.7,190.55 135.75,194 133.7,197.45 131.65,194" fill="#f25c62" stroke="#050505" stroke-width="1.1"/>
<polygon points="101.3,192.35 103.35,195.8 101.3,199.25 99.25,195.8" fill="#e4f5e5" stroke="#050505" stroke-width="1.1"/>
<polygon points="104.3,198.25 106.35,201.7 104.3,205.15 102.25,201.7" fill="#f25c62" stroke="#050505" stroke-width="1.1"/>
<polygon points="116.2,199.15 118.25,202.6 116.2,206.05 114.15,202.6" fill="#f25c62" stroke="#050505" stroke-width="1.1"/>
<polygon points="128.6,193.65 130.65,197.1 128.6,200.55 126.55,197.1" fill="#e4f5e5" stroke="#050505" stroke-width="1.1"/>
<polygon points="131.8,207.53 134.35,212.13 129.25,212.13" fill="#f25c62" stroke="#050505" stroke-width="1.1"/>
<polygon points="206.69,44.03 204.4,45.35 202.11,44.03 202.11,41.38 204.4,40.05 206.69,41.38" fill="#e4f5e5" stroke="#050505" stroke-width="1.1"/>
<polygon points="219.39,54.83 217.1,56.15 214.81,54.83 214.81,52.17 217.1,50.85 219.39,52.17" fill="#e4f5e5" stroke="#050505" stroke-width="1.1"/>
<polygon points="191.6,58.23 194.15,62.83 189.05,62.83" fill="#f25c62" stroke="#050505" stroke-width="1.1"/>
<polygon points="205.29,63.62 203,64.95 200.71,63.62 200.71,60.97 203,59.65 205.29,60.97" fill="#e4f5e5" stroke="#050505" stroke-width="1.1"/>
<polygon points="195,71.73 197.55,76.33 192.45,76.33" fill="#e4f5e5" stroke="#050505" stroke-width="1.1"/>
<rect x="157.25" y="77.55" width="4.7" height="4.7" fill="#f25c62" stroke="#050505" stroke-width="1.1"/>
<polygon points="178.5,74.15 180.55,77.6 178.5,81.05 176.45,77.6" fill="#f25c62" stroke="#050505" stroke-width="1.1"/>
<polygon points="208.8,76.83 211.35,81.43 206.25,81.43" fill="#f25c62" stroke="#050505" stroke-width="1.1"/>
<polygon points="176.6,86.35 178.65,89.8 176.6,93.25 174.55,89.8" fill="#e4f5e5" stroke="#050505" stroke-width="1.1"/>
<circle cx="208.5" cy="89.6" r="2.35" fill="#e4f5e5" stroke="#050505" stroke-width="1.1"/>
<polygon points="151.1,94.43 153.65,99.03 148.55,99.03" fill="#f25c62" stroke="#050505" stroke-width="1.1"/>
<polygon points="152,100.63 154.55,105.23 149.45,105.23" fill="#e4f5e5" stroke="#050505" stroke-width="1.1"/>
<polygon points="210.6,95.45 212.65,98.9 210.6,102.35 208.55,98.9" fill="#e4f5e5" stroke="#050505" stroke-width="1.1"/>
<polygon points="190.3,99.85 192.35,103.3 190.3,106.75 188.25,103.3" fill="#f25c62" stroke="#050505" stroke-width="1.1"/>
<polygon points="220.6,99.53 223.15,104.13 218.05,104.13" fill="#f25c62" stroke="#050505" stroke-width="1.1"/>
<polygon points="181.4,102.95 183.45,106.4 181.4,109.85 179.35,106.4" fill="#f25c62" stroke="#050505" stroke-width="1.1"/>
<polygon points="161.7,107.53 164.25,112.13 159.15,112.13" fill="#f25c62" stroke="#050505" stroke-width="1.1"/>
<polygon points="164.8,107.53 167.35,112.13 162.25,112.13" fill="#e4f5e5" stroke="#050505" stroke-width="1.1"/>
<polygon points="169.5,111.03 172.05,115.63 166.95,115.63" fill="#e4f5e5" stroke="#050505" stroke-width="1.1"/>
<polygon points="176.8,108.93 179.35,113.53 174.25,113.53" fill="#f25c62" stroke="#050505" stroke-width="1.1"/>
<polygon points="180.3,112.33 182.85,116.93 177.75,116.93" fill="#e4f5e5" stroke="#050505" stroke-width="1.1"/>
<polygon points="196.1,108.23 198.65,112.83 193.55,112.83" fill="#f25c62" stroke="#050505" stroke-width="1.1"/>
<polygon points="200.5,108.23 203.05,112.83 197.95,112.83" fill="#e4f5e5" stroke="#050505" stroke-width="1.1"/>
<circle cx="222" cy="115.5" r="2.35" fill="#f25c62" stroke="#050505" stroke-width="1.1"/>
<polygon points="236.19,85.73 233.9,87.05 231.61,85.73 231.61,83.08 233.9,81.75 236.19,83.08" fill="#e4f5e5" stroke="#050505" stroke-width="1.1"/>
<polygon points="240.59,109.42 238.3,110.75 236.01,109.42 236.01,106.77 238.3,105.45 240.59,106.77" fill="#e4f5e5" stroke="#050505" stroke-width="1.1"/>
<circle cx="143.2" cy="123.6" r="2.35" fill="#f25c62" stroke="#050505" stroke-width="1.1"/>
<rect x="142.95" y="121.55" width="4.7" height="4.7" fill="#f25c62" stroke="#050505" stroke-width="1.1"/>
<rect x="159.45" y="127.85" width="4.7" height="4.7" fill="#e4f5e5" stroke="#050505" stroke-width="1.1"/>
<polygon points="174.6,128.83 177.15,133.43 172.05,133.43" fill="#f25c62" stroke="#050505" stroke-width="1.1"/>
<rect x="149.55" y="133.45" width="4.7" height="4.7" fill="#f25c62" stroke="#050505" stroke-width="1.1"/>
<rect x="153.65" y="139.45" width="4.7" height="4.7" fill="#e4f5e5" stroke="#050505" stroke-width="1.1"/>
<rect x="159.45" y="146.45" width="4.7" height="4.7" fill="#e4f5e5" stroke="#050505" stroke-width="1.1"/>
<polygon points="174,143.33 176.55,147.93 171.45,147.93" fill="#e4f5e5" stroke="#050505" stroke-width="1.1"/>
<polygon points="156.4,156.53 158.95,161.13 153.85,161.13" fill="#e4f5e5" stroke="#050505" stroke-width="1.1"/>
<polygon points="166.9,154.45 168.95,157.9 166.9,161.35 164.85,157.9" fill="#f25c62" stroke="#050505" stroke-width="1.1"/>
<polygon points="175,156.53 177.55,161.13 172.45,161.13" fill="#e4f5e5" stroke="#050505" stroke-width="1.1"/>
<polygon points="149.8,163.15 151.85,166.6 149.8,170.05 147.75,166.6" fill="#f25c62" stroke="#050505" stroke-width="1.1"/>
<polygon points="182.5,134.65 184.55,138.1 182.5,141.55 180.45,138.1" fill="#f25c62" stroke="#050505" stroke-width="1.1"/>
<rect x="184.65" y="130.55" width="4.7" height="4.7" fill="#f25c62" stroke="#050505" stroke-width="1.1"/>
<rect x="183.65" y="147.15" width="4.7" height="4.7" fill="#f25c62" stroke="#050505" stroke-width="1.1"/>
<polygon points="186.6,155.23 189.15,159.83 184.05,159.83" fill="#f25c62" stroke="#050505" stroke-width="1.1"/>
<circle cx="221.3" cy="122.4" r="2.35" fill="#f25c62" stroke="#050505" stroke-width="1.1"/>
<polygon points="192.4,124.35 194.45,127.8 192.4,131.25 190.35,127.8" fill="#f25c62" stroke="#050505" stroke-width="1.1"/>
<circle cx="199.8" cy="126.1" r="2.35" fill="#f25c62" stroke="#050505" stroke-width="1.1"/>
<polygon points="199.4,128.43 201.95,133.03 196.85,133.03" fill="#f25c62" stroke="#050505" stroke-width="1.1"/>
<circle cx="187" cy="135.6" r="2.35" fill="#f25c62" stroke="#050505" stroke-width="1.1"/>
<polygon points="193.2,133.33 195.75,137.93 190.65,137.93" fill="#e4f5e5" stroke="#050505" stroke-width="1.1"/>
<polygon points="234.1,126.35 236.15,129.8 234.1,133.25 232.05,129.8" fill="#f25c62" stroke="#050505" stroke-width="1.1"/>
<polygon points="225,131.33 227.55,135.93 222.45,135.93" fill="#e4f5e5" stroke="#050505" stroke-width="1.1"/>
<circle cx="215.5" cy="136.9" r="2.35" fill="#f25c62" stroke="#050505" stroke-width="1.1"/>
<polygon points="229.6,135.85 231.65,139.3 229.6,142.75 227.55,139.3" fill="#e4f5e5" stroke="#050505" stroke-width="1.1"/>
<polygon points="235,135.85 237.05,139.3 235,142.75 232.95,139.3" fill="#f25c62" stroke="#050505" stroke-width="1.1"/>
<polygon points="214.7,140.45 216.75,143.9 214.7,147.35 212.65,143.9" fill="#f25c62" stroke="#050505" stroke-width="1.1"/>
<polygon points="222.6,142.55 224.65,146 222.6,149.45 220.55,146" fill="#f25c62" stroke="#050505" stroke-width="1.1"/>
<polygon points="226.7,142.55 228.75,146 226.7,149.45 224.65,146" fill="#f25c62" stroke="#050505" stroke-width="1.1"/>
<polygon points="237.4,147.03 239.95,151.63 234.85,151.63" fill="#f25c62" stroke="#050505" stroke-width="1.1"/>
<polygon points="189.5,147.03 192.05,151.63 186.95,151.63" fill="#f25c62" stroke="#050505" stroke-width="1.1"/>
<polygon points="193.6,147.43 196.15,152.03 191.05,152.03" fill="#f25c62" stroke="#050505" stroke-width="1.1"/>
<polygon points="202.7,145.33 205.25,149.93 200.15,149.93" fill="#e4f5e5" stroke="#050505" stroke-width="1.1"/>
<polygon points="200.2,150.75 202.25,154.2 200.2,157.65 198.15,154.2" fill="#e4f5e5" stroke="#050505" stroke-width="1.1"/>
<polygon points="202.3,150.33 204.85,154.93 199.75,154.93" fill="#e4f5e5" stroke="#050505" stroke-width="1.1"/>
<polygon points="218,149.55 220.05,153 218,156.45 215.95,153" fill="#e4f5e5" stroke="#050505" stroke-width="1.1"/>
<polygon points="208.1,153.65 210.15,157.1 208.1,160.55 206.05,157.1" fill="#f25c62" stroke="#050505" stroke-width="1.1"/>
<polygon points="225.5,154.45 227.55,157.9 225.5,161.35 223.45,157.9" fill="#e4f5e5" stroke="#050505" stroke-width="1.1"/>
<rect x="231.15" y="157.15" width="4.7" height="4.7" fill="#e4f5e5" stroke="#050505" stroke-width="1.1"/>
<rect x="237.15" y="153.85" width="4.7" height="4.7" fill="#e4f5e5" stroke="#050505" stroke-width="1.1"/>
<polygon points="213.9,158.25 215.95,161.7 213.9,165.15 211.85,161.7" fill="#f25c62" stroke="#050505" stroke-width="1.1"/>
<circle cx="149.6" cy="173.1" r="2.35" fill="#f25c62" stroke="#050505" stroke-width="1.1"/>
<polygon points="148.3,176.73 150.85,181.33 145.75,181.33" fill="#e4f5e5" stroke="#050505" stroke-width="1.1"/>
<polygon points="166.4,166.05 168.45,169.5 166.4,172.95 164.35,169.5" fill="#e4f5e5" stroke="#050505" stroke-width="1.1"/>
<polygon points="164.3,172.63 166.85,177.23 161.75,177.23" fill="#e4f5e5" stroke="#050505" stroke-width="1.1"/>
<polygon points="168.4,176.75 170.45,180.2 168.4,183.65 166.35,180.2" fill="#e4f5e5" stroke="#050505" stroke-width="1.1"/>
<circle cx="163.5" cy="182.7" r="2.35" fill="#f25c62" stroke="#050505" stroke-width="1.1"/>
<polygon points="167.2,185.03 169.75,189.63 164.65,189.63" fill="#f25c62" stroke="#050505" stroke-width="1.1"/>
<polygon points="145.3,186.63 147.85,191.23 142.75,191.23" fill="#e4f5e5" stroke="#050505" stroke-width="1.1"/>
<polygon points="156.4,183.85 158.45,187.3 156.4,190.75 154.35,187.3" fill="#f25c62" stroke="#050505" stroke-width="1.1"/>
<polygon points="156.4,187.95 158.45,191.4 156.4,194.85 154.35,191.4" fill="#f25c62" stroke="#050505" stroke-width="1.1"/>
<polygon points="156.4,193.75 158.45,197.2 156.4,200.65 154.35,197.2" fill="#f25c62" stroke="#050505" stroke-width="1.1"/>
<polygon points="155.2,197.83 157.75,202.43 152.65,202.43" fill="#e4f5e5" stroke="#050505" stroke-width="1.1"/>
<polygon points="177.1,180.55 179.15,184 177.1,187.45 175.05,184" fill="#e4f5e5" stroke="#050505" stroke-width="1.1"/>
<polygon points="180,181.35 182.05,184.8 180,188.25 177.95,184.8" fill="#f25c62" stroke="#050505" stroke-width="1.1"/>
<polygon points="175.9,186.23 178.45,190.83 173.35,190.83" fill="#f25c62" stroke="#050505" stroke-width="1.1"/>
<polygon points="170.9,193.73 173.45,198.33 168.35,198.33" fill="#f25c62" stroke="#050505" stroke-width="1.1"/>
<polygon points="180.4,193.75 182.45,197.2 180.4,200.65 178.35,197.2" fill="#f25c62" stroke="#050505" stroke-width="1.1"/>
<circle cx="176.7" cy="201.7" r="2.35" fill="#f25c62" stroke="#050505" stroke-width="1.1"/>
<polygon points="183.6,198.25 185.65,201.7 183.6,205.15 181.55,201.7" fill="#e4f5e5" stroke="#050505" stroke-width="1.1"/>
<polygon points="161.8,198.25 163.85,201.7 161.8,205.15 159.75,201.7" fill="#f25c62" stroke="#050505" stroke-width="1.1"/>
<polygon points="169.5,206.13 172.05,210.73 166.95,210.73" fill="#e4f5e5" stroke="#050505" stroke-width="1.1"/>
<polygon points="169.3,203.63 171.85,208.23 166.75,208.23" fill="#f25c62" stroke="#050505" stroke-width="1.1"/>
<polygon points="154.8,207.35 156.85,210.8 154.8,214.25 152.75,210.8" fill="#f25c62" stroke="#050505" stroke-width="1.1"/>
<polygon points="178.1,214.53 180.65,219.13 175.55,219.13" fill="#f25c62" stroke="#050505" stroke-width="1.1"/>
<polygon points="184.4,216.83 186.95,221.43 181.85,221.43" fill="#f25c62" stroke="#050505" stroke-width="1.1"/>
<circle cx="185" cy="173.2" r="2.35" fill="#f25c62" stroke="#050505" stroke-width="1.1"/>
<polygon points="187.9,169.35 189.95,172.8 187.9,176.25 185.85,172.8" fill="#f25c62" stroke="#050505" stroke-width="1.1"/>
<polygon points="190.3,163.55 192.35,167 190.3,170.45 188.25,167" fill="#e4f5e5" stroke="#050505" stroke-width="1.1"/>
<circle cx="193.6" cy="165" r="2.35" fill="#f25c62" stroke="#050505" stroke-width="1.1"/>
<polygon points="197.8,162.35 199.85,165.8 197.8,169.25 195.75,165.8" fill="#f25c62" stroke="#050505" stroke-width="1.1"/>
<circle cx="192.4" cy="170.3" r="2.35" fill="#e4f5e5" stroke="#050505" stroke-width="1.1"/>
<polygon points="195.7,164.85 197.75,168.3 195.7,171.75 193.65,168.3" fill="#e4f5e5" stroke="#050505" stroke-width="1.1"/>
<polygon points="198.6,166.85 200.65,170.3 198.6,173.75 196.55,170.3" fill="#f25c62" stroke="#050505" stroke-width="1.1"/>
<polygon points="196.1,170.15 198.15,173.6 196.1,177.05 194.05,173.6" fill="#f25c62" stroke="#050505" stroke-width="1.1"/>
<polygon points="194.5,173.05 196.55,176.5 194.5,179.95 192.45,176.5" fill="#f25c62" stroke="#050505" stroke-width="1.1"/>
<polygon points="198.2,175.15 200.25,178.6 198.2,182.05 196.15,178.6" fill="#f25c62" stroke="#050505" stroke-width="1.1"/>
<polygon points="208.5,163.15 210.55,166.6 208.5,170.05 206.45,166.6" fill="#e4f5e5" stroke="#050505" stroke-width="1.1"/>
<polygon points="212.2,166.83 214.75,171.43 209.65,171.43" fill="#e4f5e5" stroke="#050505" stroke-width="1.1"/>
<rect x="215.65" y="169.25" width="4.7" height="4.7" fill="#f25c62" stroke="#050505" stroke-width="1.1"/>
<polygon points="217.6,173.05 219.65,176.5 217.6,179.95 215.55,176.5" fill="#f25c62" stroke="#050505" stroke-width="1.1"/>
<circle cx="223.4" cy="167.3" r="2.35" fill="#f25c62" stroke="#050505" stroke-width="1.1"/>
<circle cx="222.1" cy="184.8" r="2.35" fill="#e4f5e5" stroke="#050505" stroke-width="1.1"/>
<circle cx="213.5" cy="188.5" r="2.35" fill="#e4f5e5" stroke="#050505" stroke-width="1.1"/>
<rect x="224.75" y="186.15" width="4.7" height="4.7" fill="#f25c62" stroke="#050505" stroke-width="1.1"/>
<polygon points="194.5,188.35 196.55,191.8 194.5,195.25 192.45,191.8" fill="#e4f5e5" stroke="#050505" stroke-width="1.1"/>
<polygon points="196.9,188.33 199.45,192.93 194.35,192.93" fill="#e4f5e5" stroke="#050505" stroke-width="1.1"/>
<polygon points="200.7,195.85 202.75,199.3 200.7,202.75 198.65,199.3" fill="#e4f5e5" stroke="#050505" stroke-width="1.1"/>
<polygon points="194.5,202.05 196.55,205.5 194.5,208.95 192.45,205.5" fill="#e4f5e5" stroke="#050505" stroke-width="1.1"/>
<polygon points="201.5,202.33 204.05,206.93 198.95,206.93" fill="#e4f5e5" stroke="#050505" stroke-width="1.1"/>
<circle cx="197.4" cy="209.2" r="2.35" fill="#f25c62" stroke="#050505" stroke-width="1.1"/>
<polygon points="208.1,204.83 210.65,209.43 205.55,209.43" fill="#e4f5e5" stroke="#050505" stroke-width="1.1"/>
<polygon points="206.4,204.03 208.95,208.63 203.85,208.63" fill="#f25c62" stroke="#050505" stroke-width="1.1"/>
<polygon points="187.4,209.33 189.95,213.93 184.85,213.93" fill="#f25c62" stroke="#050505" stroke-width="1.1"/>
<rect x="190.45" y="210.55" width="4.7" height="4.7" fill="#e4f5e5" stroke="#050505" stroke-width="1.1"/>
<polygon points="203.1,209.03 205.65,213.63 200.55,213.63" fill="#f25c62" stroke="#050505" stroke-width="1.1"/>
<polygon points="177.5,220.55 179.55,224 177.5,227.45 175.45,224" fill="#e4f5e5" stroke="#050505" stroke-width="1.1"/>
<polygon points="198.1,219.75 200.15,223.2 198.1,226.65 196.05,223.2" fill="#e4f5e5" stroke="#050505" stroke-width="1.1"/>
<polygon points="211.3,219.13 213.85,223.73 208.75,223.73" fill="#f25c62" stroke="#050505" stroke-width="1.1"/>
<circle cx="203.6" cy="230.5" r="2.35" fill="#e4f5e5" stroke="#050505" stroke-width="1.1"/>
<circle cx="193" cy="250.5" r="2.35" fill="#f25c62" stroke="#050505" stroke-width="1.1"/>
<polygon points="250.5,143.55 252.55,147 250.5,150.45 248.45,147" fill="#f25c62" stroke="#050505" stroke-width="1.1"/>
<polygon points="241.6,148.03 244.15,152.63 239.05,152.63" fill="#f25c62" stroke="#050505" stroke-width="1.1"/>
<polygon points="239.9,156.73 242.45,161.33 237.35,161.33" fill="#e4f5e5" stroke="#050505" stroke-width="1.1"/>
<polygon points="247.8,148.15 249.85,151.6 247.8,155.05 245.75,151.6" fill="#e4f5e5" stroke="#050505" stroke-width="1.1"/>
<polygon points="250.7,148.95 252.75,152.4 250.7,155.85 248.65,152.4" fill="#f25c62" stroke="#050505" stroke-width="1.1"/>
<polygon points="249.8,153.83 252.35,158.43 247.25,158.43" fill="#e4f5e5" stroke="#050505" stroke-width="1.1"/>
<polygon points="251.7,160.15 253.75,163.6 251.7,167.05 249.65,163.6" fill="#f25c62" stroke="#050505" stroke-width="1.1"/>
<polygon points="254.2,163.05 256.25,166.5 254.2,169.95 252.15,166.5" fill="#f25c62" stroke="#050505" stroke-width="1.1"/>
<rect x="249.55" y="169.85" width="4.7" height="4.7" fill="#f25c62" stroke="#050505" stroke-width="1.1"/>
<rect x="254.05" y="169.45" width="4.7" height="4.7" fill="#e4f5e5" stroke="#050505" stroke-width="1.1"/>
<circle cx="258.5" cy="171.4" r="2.35" fill="#f25c62" stroke="#050505" stroke-width="1.1"/>
<circle cx="263.5" cy="168.9" r="2.35" fill="#f25c62" stroke="#050505" stroke-width="1.1"/>
<polygon points="285.8,173.33 288.35,177.93 283.25,177.93" fill="#f25c62" stroke="#050505" stroke-width="1.1"/>
<circle cx="274.6" cy="179.3" r="2.35" fill="#e4f5e5" stroke="#050505" stroke-width="1.1"/>
<polygon points="248.8,177.85 250.85,181.3 248.8,184.75 246.75,181.3" fill="#e4f5e5" stroke="#050505" stroke-width="1.1"/>
<polygon points="260.2,182.33 262.75,186.93 257.65,186.93" fill="#f25c62" stroke="#050505" stroke-width="1.1"/>
<circle cx="245.8" cy="200.3" r="2.35" fill="#f25c62" stroke="#050505" stroke-width="1.1"/>
<polygon points="250.4,195.55 252.45,199 250.4,202.45 248.35,199" fill="#e4f5e5" stroke="#050505" stroke-width="1.1"/>
<polygon points="300.5,199.73 303.05,204.33 297.95,204.33" fill="#f25c62" stroke="#050505" stroke-width="1.1"/>
<circle cx="265.5" cy="209" r="2.35" fill="#f25c62" stroke="#050505" stroke-width="1.1"/>
<polygon points="242.7,214.05 244.75,217.5 242.7,220.95 240.65,217.5" fill="#e4f5e5" stroke="#050505" stroke-width="1.1"/>
<polygon points="248.9,233.43 251.45,238.03 246.35,238.03" fill="#f25c62" stroke="#050505" stroke-width="1.1"/>
<polygon points="308.09,236.12 305.8,237.45 303.51,236.12 303.51,233.48 305.8,232.15 308.09,233.48" fill="#f25c62" stroke="#050505" stroke-width="1.1"/>
<circle cx="291.6" cy="250.2" r="2.35" fill="#f25c62" stroke="#050505" stroke-width="1.1"/>
<polygon points="185.8,160.25 187.85,163.7 185.8,167.15 183.75,163.7" fill="#e4f5e5" stroke="#050505" stroke-width="1.1"/>
<circle cx="485.6" cy="25.9" r="2.0" fill="#e4f5e5" stroke="#050505" stroke-width="1.1"/>
<circle cx="562.6" cy="148.6" r="2.0" fill="#e4f5e5" stroke="#050505" stroke-width="1.1"/>
<circle cx="524.9" cy="162.2" r="2.0" fill="#e4f5e5" stroke="#050505" stroke-width="1.1"/>
<circle cx="476.1" cy="174.4" r="2.0" fill="#e4f5e5" stroke="#050505" stroke-width="1.1"/>
<circle cx="543.6" cy="174.4" r="2.0" fill="#e4f5e5" stroke="#050505" stroke-width="1.1"/>
<circle cx="546.4" cy="176.4" r="2.0" fill="#e4f5e5" stroke="#050505" stroke-width="1.1"/>
<rect x="450.5" y="169.4" width="4.0" height="4.0" fill="#f25c62" stroke="#050505" stroke-width="1.1"/>
<rect x="465.4" y="195.9" width="4.0" height="4.0" fill="#f25c62" stroke="#050505" stroke-width="1.1"/>
<rect x="527.1" y="192.5" width="4.0" height="4.0" fill="#f25c62" stroke="#050505" stroke-width="1.1"/>
<rect x="531.6" y="194.5" width="4.0" height="4.0" fill="#f25c62" stroke="#050505" stroke-width="1.1"/>
<rect x="518.7" y="200.5" width="4.0" height="4.0" fill="#f25c62" stroke="#050505" stroke-width="1.1"/>
<rect x="570.5" y="204.4" width="4.0" height="4.0" fill="#f25c62" stroke="#050505" stroke-width="1.1"/>
<rect x="618.7" y="208.2" width="4.0" height="4.0" fill="#f25c62" stroke="#050505" stroke-width="1.1"/>
<rect x="486.3" y="221.8" width="4.0" height="4.0" fill="#f25c62" stroke="#050505" stroke-width="1.1"/>
<rect x="586" y="221.8" width="4.0" height="4.0" fill="#f25c62" stroke="#050505" stroke-width="1.1"/>
<rect x="430.8" y="227.3" width="4.0" height="4.0" fill="#f25c62" stroke="#050505" stroke-width="1.1"/>
<rect x="536.1" y="229.2" width="4.0" height="4.0" fill="#f25c62" stroke="#050505" stroke-width="1.1"/>
<rect x="422.4" y="241.6" width="4.0" height="4.0" fill="#f25c62" stroke="#050505" stroke-width="1.1"/>
<rect x="499.4" y="247.1" width="4.0" height="4.0" fill="#f25c62" stroke="#050505" stroke-width="1.1"/>
<rect x="57.3" y="413" width="3.8" height="3.8" fill="#f25c62" stroke="#050505" stroke-width="1.1"/>
<circle cx="62.3" cy="503.4" r="2.0" fill="#e4f5e5" stroke="#050505" stroke-width="1.1"/>
<circle cx="56.3" cy="517.2" r="2.0" fill="#e4f5e5" stroke="#050505" stroke-width="1.1"/>
<circle cx="79.3" cy="512.8" r="2.0" fill="#e4f5e5" stroke="#050505" stroke-width="1.1"/>
<circle cx="88.5" cy="534.2" r="2.0" fill="#e4f5e5" stroke="#050505" stroke-width="1.1"/>
<circle cx="92.7" cy="537.2" r="2.0" fill="#e4f5e5" stroke="#050505" stroke-width="1.1"/>
<circle cx="103.3" cy="540.5" r="2.0" fill="#e4f5e5" stroke="#050505" stroke-width="1.1"/>
<circle cx="104.8" cy="539.5" r="2.0" fill="#e4f5e5" stroke="#050505" stroke-width="1.1"/>
<rect x="261.5" y="386.7" width="3.8" height="3.8" fill="#f25c62" stroke="#050505" stroke-width="1.1"/>
<rect x="178.6" y="500.6" width="3.8" height="3.8" fill="#f25c62" stroke="#050505" stroke-width="1.1"/>
<rect x="182.4" y="517.4" width="3.8" height="3.8" fill="#f25c62" stroke="#050505" stroke-width="1.1"/>
<rect x="204.7" y="506.3" width="3.8" height="3.8" fill="#f25c62" stroke="#050505" stroke-width="1.1"/>
<rect x="226.3" y="511.3" width="3.8" height="3.8" fill="#f25c62" stroke="#050505" stroke-width="1.1"/>
<rect x="243.6" y="501.5" width="3.8" height="3.8" fill="#f25c62" stroke="#050505" stroke-width="1.1"/>
<rect x="211.7" y="579.5" width="3.8" height="3.8" fill="#f25c62" stroke="#050505" stroke-width="1.1"/>
<rect x="222.2" y="602.6" width="3.8" height="3.8" fill="#f25c62" stroke="#050505" stroke-width="1.1"/>
<rect x="423.6" y="435.3" width="4.2" height="4.2" fill="#f25c62" stroke="#050505" stroke-width="1.15"/>
<rect x="478.1" y="438.6" width="4.2" height="4.2" fill="#f25c62" stroke="#050505" stroke-width="1.15"/>
<rect x="514.2" y="445.6" width="4.2" height="4.2" fill="#f25c62" stroke="#050505" stroke-width="1.15"/>
<rect x="527.3" y="429.3" width="4.2" height="4.2" fill="#f25c62" stroke="#050505" stroke-width="1.15"/>
<rect x="429.4" y="456.3" width="4.2" height="4.2" fill="#f25c62" stroke="#050505" stroke-width="1.15"/>
<rect x="427.4" y="458.8" width="4.2" height="4.2" fill="#f25c62" stroke="#050505" stroke-width="1.15"/>
<rect x="469.1" y="461" width="4.2" height="4.2" fill="#f25c62" stroke="#050505" stroke-width="1.15"/>
<rect x="472.4" y="463.3" width="4.2" height="4.2" fill="#f25c62" stroke="#050505" stroke-width="1.15"/>
<rect x="494.3" y="465.4" width="4.2" height="4.2" fill="#f25c62" stroke="#050505" stroke-width="1.15"/>
<rect x="510.4" y="465.4" width="4.2" height="4.2" fill="#f25c62" stroke="#050505" stroke-width="1.15"/>
<rect x="497.5" y="474.9" width="4.2" height="4.2" fill="#f25c62" stroke="#050505" stroke-width="1.15"/>
<rect x="516.5" y="480.3" width="4.2" height="4.2" fill="#f25c62" stroke="#050505" stroke-width="1.15"/>
<rect x="464.1" y="482.3" width="4.2" height="4.2" fill="#f25c62" stroke="#050505" stroke-width="1.15"/>
<rect x="484.3" y="488.2" width="4.2" height="4.2" fill="#f25c62" stroke="#050505" stroke-width="1.15"/>
<rect x="497.2" y="493.5" width="4.2" height="4.2" fill="#f25c62" stroke="#050505" stroke-width="1.15"/>
<rect x="472.4" y="494" width="4.2" height="4.2" fill="#f25c62" stroke="#050505" stroke-width="1.15"/>
<rect x="466.2" y="497.7" width="4.2" height="4.2" fill="#f25c62" stroke="#050505" stroke-width="1.15"/>
<rect x="465.4" y="500.5" width="4.2" height="4.2" fill="#f25c62" stroke="#050505" stroke-width="1.15"/>
<rect x="445.9" y="506.2" width="4.2" height="4.2" fill="#f25c62" stroke="#050505" stroke-width="1.15"/>
<rect x="451.2" y="508.4" width="4.2" height="4.2" fill="#f25c62" stroke="#050505" stroke-width="1.15"/>
<circle cx="525.2" cy="507.7" r="2.1" fill="#e4f5e5" stroke="#050505" stroke-width="1.15"/>
<circle cx="520.6" cy="523.2" r="2.1" fill="#e4f5e5" stroke="#050505" stroke-width="1.15"/>
<circle cx="495.5" cy="544.4" r="2.1" fill="#e4f5e5" stroke="#050505" stroke-width="1.15"/>
<circle cx="508.8" cy="546.9" r="2.1" fill="#e4f5e5" stroke="#050505" stroke-width="1.15"/>
<circle cx="511.3" cy="553" r="2.1" fill="#e4f5e5" stroke="#050505" stroke-width="1.15"/>
<circle cx="515.3" cy="554.3" r="2.1" fill="#e4f5e5" stroke="#050505" stroke-width="1.15"/>
<circle cx="515.8" cy="562.5" r="2.1" fill="#e4f5e5" stroke="#050505" stroke-width="1.15"/>
<circle cx="512.8" cy="566" r="2.1" fill="#e4f5e5" stroke="#050505" stroke-width="1.15"/>
<rect x="552.6" y="381.1" width="4.2" height="4.2" fill="#f25c62" stroke="#050505" stroke-width="1.15"/>
<rect x="600.2" y="377.5" width="4.2" height="4.2" fill="#f25c62" stroke="#050505" stroke-width="1.15"/>
<rect x="574.1" y="416.7" width="4.2" height="4.2" fill="#f25c62" stroke="#050505" stroke-width="1.15"/>
<rect x="538.6" y="421.3" width="4.2" height="4.2" fill="#f25c62" stroke="#050505" stroke-width="1.15"/>
<rect x="542.4" y="430.2" width="4.2" height="4.2" fill="#f25c62" stroke="#050505" stroke-width="1.15"/>
<rect x="540.2" y="436" width="4.2" height="4.2" fill="#f25c62" stroke="#050505" stroke-width="1.15"/>
<rect x="630.6" y="442.3" width="4.2" height="4.2" fill="#f25c62" stroke="#050505" stroke-width="1.15"/>
<rect x="542.4" y="464.1" width="4.2" height="4.2" fill="#f25c62" stroke="#050505" stroke-width="1.15"/>
<circle cx="581.2" cy="478.5" r="2.1" fill="#e4f5e5" stroke="#050505" stroke-width="1.15"/>
<circle cx="559.2" cy="485.3" r="2.1" fill="#e4f5e5" stroke="#050505" stroke-width="1.15"/>
<circle cx="580.3" cy="485.3" r="2.1" fill="#e4f5e5" stroke="#050505" stroke-width="1.15"/>
<rect x="586.2" y="480.5" width="4.2" height="4.2" fill="#f25c62" stroke="#050505" stroke-width="1.15"/>
<circle cx="590.2" cy="481.8" r="2.1" fill="#e4f5e5" stroke="#050505" stroke-width="1.15"/>
<rect x="604.1" y="477.3" width="4.2" height="4.2" fill="#f25c62" stroke="#050505" stroke-width="1.15"/>
<rect x="593.4" y="484.4" width="4.2" height="4.2" fill="#f25c62" stroke="#050505" stroke-width="1.15"/>
<rect x="531.1" y="482.1" width="4.2" height="4.2" fill="#f25c62" stroke="#050505" stroke-width="1.15"/>
<rect x="532.3" y="488.6" width="4.2" height="4.2" fill="#f25c62" stroke="#050505" stroke-width="1.15"/>
<circle cx="536.5" cy="508.5" r="2.1" fill="#e4f5e5" stroke="#050505" stroke-width="1.15"/>
<circle cx="557.2" cy="506" r="2.1" fill="#e4f5e5" stroke="#050505" stroke-width="1.15"/>
<circle cx="593.2" cy="503.4" r="2.1" fill="#e4f5e5" stroke="#050505" stroke-width="1.15"/>
<circle cx="598.7" cy="509" r="2.1" fill="#e4f5e5" stroke="#050505" stroke-width="1.15"/>
<circle cx="585.3" cy="511.8" r="2.1" fill="#e4f5e5" stroke="#050505" stroke-width="1.15"/>
<circle cx="549.4" cy="514.6" r="2.1" fill="#e4f5e5" stroke="#050505" stroke-width="1.15"/>
<circle cx="537.7" cy="517.6" r="2.1" fill="#e4f5e5" stroke="#050505" stroke-width="1.15"/>
<circle cx="572.2" cy="516.6" r="2.1" fill="#e4f5e5" stroke="#050505" stroke-width="1.15"/>
<circle cx="579.5" cy="519.6" r="2.1" fill="#e4f5e5" stroke="#050505" stroke-width="1.15"/>
<circle cx="585.6" cy="523.7" r="2.1" fill="#e4f5e5" stroke="#050505" stroke-width="1.15"/>
<circle cx="535.7" cy="534" r="2.1" fill="#e4f5e5" stroke="#050505" stroke-width="1.15"/>
<circle cx="563.3" cy="532.8" r="2.1" fill="#e4f5e5" stroke="#050505" stroke-width="1.15"/>
<circle cx="560.2" cy="545.7" r="2.1" fill="#e4f5e5" stroke="#050505" stroke-width="1.15"/>
<circle cx="536.2" cy="560.3" r="2.1" fill="#e4f5e5" stroke="#050505" stroke-width="1.15"/>
<circle cx="574.5" cy="560.4" r="2.1" fill="#e4f5e5" stroke="#050505" stroke-width="1.15"/>
<circle cx="535.9" cy="570.4" r="2.1" fill="#e4f5e5" stroke="#050505" stroke-width="1.15"/>
<circle cx="537" cy="603.5" r="2.1" fill="#e4f5e5" stroke="#050505" stroke-width="1.15"/>
<rect x="155.3" y="828.8" width="4.8" height="4.8" fill="#f25c62" stroke="#050505" stroke-width="1.15"/>
<rect x="119.7" y="836.1" width="4.8" height="4.8" fill="#f25c62" stroke="#050505" stroke-width="1.15"/>
<rect x="120.2" y="854.3" width="4.8" height="4.8" fill="#f25c62" stroke="#050505" stroke-width="1.15"/>
<rect x="100.1" y="858.6" width="4.8" height="4.8" fill="#f25c62" stroke="#050505" stroke-width="1.15"/>
<rect x="100.9" y="859.7" width="4.8" height="4.8" fill="#f25c62" stroke="#050505" stroke-width="1.15"/>
<rect x="79.7" y="866.9" width="4.8" height="4.8" fill="#f25c62" stroke="#050505" stroke-width="1.15"/>
<rect x="53.8" y="870.2" width="4.8" height="4.8" fill="#f25c62" stroke="#050505" stroke-width="1.15"/>
<rect x="109.8" y="868.8" width="4.8" height="4.8" fill="#f25c62" stroke="#050505" stroke-width="1.15"/>
<rect x="100.4" y="874.1" width="4.8" height="4.8" fill="#f25c62" stroke="#050505" stroke-width="1.15"/>
<rect x="55.5" y="882.1" width="4.8" height="4.8" fill="#f25c62" stroke="#050505" stroke-width="1.15"/>
<rect x="127.4" y="880.7" width="4.8" height="4.8" fill="#f25c62" stroke="#050505" stroke-width="1.15"/>
<circle cx="142.5" cy="882.3" r="2.5" fill="#e4f5e5" stroke="#050505" stroke-width="1.15"/>
<rect x="151.3" y="879.3" width="4.8" height="4.8" fill="#f25c62" stroke="#050505" stroke-width="1.15"/>
<rect x="76.6" y="895.6" width="4.8" height="4.8" fill="#f25c62" stroke="#050505" stroke-width="1.15"/>
<circle cx="106.1" cy="901.8" r="2.5" fill="#e4f5e5" stroke="#050505" stroke-width="1.15"/>
<circle cx="121.5" cy="896.9" r="2.5" fill="#e4f5e5" stroke="#050505" stroke-width="1.15"/>
<rect x="125.5" y="892" width="4.8" height="4.8" fill="#f25c62" stroke="#050505" stroke-width="1.15"/>
<circle cx="133.1" cy="894" r="2.5" fill="#e4f5e5" stroke="#050505" stroke-width="1.15"/>
<rect x="131" y="901.6" width="4.8" height="4.8" fill="#f25c62" stroke="#050505" stroke-width="1.15"/>
<circle cx="138.8" cy="909.3" r="2.5" fill="#e4f5e5" stroke="#050505" stroke-width="1.15"/>
<rect x="138.4" y="911.5" width="4.8" height="4.8" fill="#f25c62" stroke="#050505" stroke-width="1.15"/>
<rect x="98.4" y="913" width="4.8" height="4.8" fill="#f25c62" stroke="#050505" stroke-width="1.15"/>
<rect x="112.8" y="917.6" width="4.8" height="4.8" fill="#f25c62" stroke="#050505" stroke-width="1.15"/>
<rect x="224" y="781.2" width="4.8" height="4.8" fill="#f25c62" stroke="#050505" stroke-width="1.15"/>
<rect x="218.3" y="795.7" width="4.8" height="4.8" fill="#f25c62" stroke="#050505" stroke-width="1.15"/>
<rect x="263.8" y="812.2" width="4.8" height="4.8" fill="#f25c62" stroke="#050505" stroke-width="1.15"/>
<rect x="211.7" y="820.8" width="4.8" height="4.8" fill="#f25c62" stroke="#050505" stroke-width="1.15"/>
<rect x="224.1" y="819.3" width="4.8" height="4.8" fill="#f25c62" stroke="#050505" stroke-width="1.15"/>
<rect x="219.5" y="843.6" width="4.8" height="4.8" fill="#f25c62" stroke="#050505" stroke-width="1.15"/>
<rect x="218.3" y="851.1" width="4.8" height="4.8" fill="#f25c62" stroke="#050505" stroke-width="1.15"/>
<rect x="205.5" y="856.5" width="4.8" height="4.8" fill="#f25c62" stroke="#050505" stroke-width="1.15"/>
<rect x="243.5" y="866.4" width="4.8" height="4.8" fill="#f25c62" stroke="#050505" stroke-width="1.15"/>
<rect x="187.8" y="874.8" width="4.8" height="4.8" fill="#f25c62" stroke="#050505" stroke-width="1.15"/>
<rect x="254.2" y="873.2" width="4.8" height="4.8" fill="#f25c62" stroke="#050505" stroke-width="1.15"/>
<rect x="256.7" y="876.6" width="4.8" height="4.8" fill="#f25c62" stroke="#050505" stroke-width="1.15"/>
<circle cx="234.3" cy="879.1" r="2.5" fill="#e4f5e5" stroke="#050505" stroke-width="1.15"/>
<circle cx="255.8" cy="883.1" r="2.5" fill="#e4f5e5" stroke="#050505" stroke-width="1.15"/>
<rect x="233.1" y="881.6" width="4.8" height="4.8" fill="#f25c62" stroke="#050505" stroke-width="1.15"/>
<rect x="159.2" y="886.1" width="4.8" height="4.8" fill="#f25c62" stroke="#050505" stroke-width="1.15"/>
<circle cx="189.2" cy="889.6" r="2.5" fill="#e4f5e5" stroke="#050505" stroke-width="1.15"/>
<circle cx="213.6" cy="888.5" r="2.5" fill="#e4f5e5" stroke="#050505" stroke-width="1.15"/>
<circle cx="260.5" cy="891" r="2.5" fill="#e4f5e5" stroke="#050505" stroke-width="1.15"/>
<circle cx="242.6" cy="894" r="2.5" fill="#e4f5e5" stroke="#050505" stroke-width="1.15"/>
<rect x="236.9" y="893.2" width="4.8" height="4.8" fill="#f25c62" stroke="#050505" stroke-width="1.15"/>
<rect x="219" y="896.5" width="4.8" height="4.8" fill="#f25c62" stroke="#050505" stroke-width="1.15"/>
<circle cx="211.5" cy="898.6" r="2.5" fill="#e4f5e5" stroke="#050505" stroke-width="1.15"/>
<circle cx="204" cy="903.4" r="2.5" fill="#e4f5e5" stroke="#050505" stroke-width="1.15"/>
<circle cx="200.7" cy="906.7" r="2.5" fill="#e4f5e5" stroke="#050505" stroke-width="1.15"/>
<rect x="166.6" y="907.3" width="4.8" height="4.8" fill="#f25c62" stroke="#050505" stroke-width="1.15"/>
<circle cx="181.4" cy="908.8" r="2.5" fill="#e4f5e5" stroke="#050505" stroke-width="1.15"/>
<rect x="209.6" y="908.1" width="4.8" height="4.8" fill="#f25c62" stroke="#050505" stroke-width="1.15"/>
<circle cx="223.6" cy="909.7" r="2.5" fill="#e4f5e5" stroke="#050505" stroke-width="1.15"/>
<circle cx="240.1" cy="911" r="2.5" fill="#e4f5e5" stroke="#050505" stroke-width="1.15"/>
<rect x="162" y="915" width="4.8" height="4.8" fill="#f25c62" stroke="#050505" stroke-width="1.15"/>
<rect x="161.2" y="919.7" width="4.8" height="4.8" fill="#f25c62" stroke="#050505" stroke-width="1.15"/>
<circle cx="192.6" cy="919.1" r="2.5" fill="#e4f5e5" stroke="#050505" stroke-width="1.15"/>
<circle cx="216.4" cy="923.7" r="2.5" fill="#e4f5e5" stroke="#050505" stroke-width="1.15"/>
<rect x="167.4" y="927.4" width="4.8" height="4.8" fill="#f25c62" stroke="#050505" stroke-width="1.15"/>
<circle cx="192.6" cy="929" r="2.5" fill="#e4f5e5" stroke="#050505" stroke-width="1.15"/>
<circle cx="200.1" cy="934.5" r="2.5" fill="#e4f5e5" stroke="#050505" stroke-width="1.15"/>
<circle cx="212" cy="938.6" r="2.5" fill="#e4f5e5" stroke="#050505" stroke-width="1.15"/>
<circle cx="207" cy="943.1" r="2.5" fill="#e4f5e5" stroke="#050505" stroke-width="1.15"/>
<rect x="153.9" y="938.3" width="4.8" height="4.8" fill="#f25c62" stroke="#050505" stroke-width="1.15"/>
<circle cx="182.6" cy="961.7" r="2.5" fill="#e4f5e5" stroke="#050505" stroke-width="1.15"/>
<circle cx="211.2" cy="962.6" r="2.5" fill="#e4f5e5" stroke="#050505" stroke-width="1.15"/>
<circle cx="256.5" cy="970.6" r="2.5" fill="#e4f5e5" stroke="#050505" stroke-width="1.15"/>
<rect x="272.2" y="854.4" width="4.8" height="4.8" fill="#f25c62" stroke="#050505" stroke-width="1.15"/>
<circle cx="273.7" cy="865" r="2.5" fill="#e4f5e5" stroke="#050505" stroke-width="1.15"/>
<circle cx="272.2" cy="871.3" r="2.5" fill="#e4f5e5" stroke="#050505" stroke-width="1.15"/>
<rect x="284.9" y="886.8" width="4.8" height="4.8" fill="#f25c62" stroke="#050505" stroke-width="1.15"/>
<circle cx="289.7" cy="888.3" r="2.5" fill="#e4f5e5" stroke="#050505" stroke-width="1.15"/>
<circle cx="287.9" cy="894.1" r="2.5" fill="#e4f5e5" stroke="#050505" stroke-width="1.15"/>
<rect x="277.3" y="896.2" width="4.8" height="4.8" fill="#f25c62" stroke="#050505" stroke-width="1.15"/>
<circle cx="286.4" cy="902.3" r="2.5" fill="#e4f5e5" stroke="#050505" stroke-width="1.15"/>
<circle cx="280.6" cy="922.3" r="2.5" fill="#e4f5e5" stroke="#050505" stroke-width="1.15"/>
<circle cx="271.5" cy="954.7" r="2.5" fill="#e4f5e5" stroke="#050505" stroke-width="1.15"/>
<circle cx="513.4" cy="861" r="2.8" fill="#e4f5e5" stroke="#050505" stroke-width="1.1"/>
<circle cx="552.6" cy="912.6" r="2.8" fill="#e4f5e5" stroke="#050505" stroke-width="1.1"/>
<circle cx="443.3" cy="934.7" r="2.8" fill="#e4f5e5" stroke="#050505" stroke-width="1.1"/>
<circle cx="433.8" cy="978.1" r="2.8" fill="#e4f5e5" stroke="#050505" stroke-width="1.1"/>
<circle cx="486.1" cy="973.3" r="2.8" fill="#e4f5e5" stroke="#050505" stroke-width="1.1"/>
<rect x="602.8" y="860.4" width="5.4" height="5.4" fill="#f25c62" stroke="#050505" stroke-width="1.1"/>
<rect x="640.9" y="892.3" width="5.4" height="5.4" fill="#f25c62" stroke="#050505" stroke-width="1.1"/>
<rect x="649.2" y="916" width="5.4" height="5.4" fill="#f25c62" stroke="#050505" stroke-width="1.1"/>
<rect x="652.1" y="916.4" width="5.4" height="5.4" fill="#f25c62" stroke="#050505" stroke-width="1.1"/>
<rect x="658.9" y="937.2" width="5.4" height="5.4" fill="#f25c62" stroke="#050505" stroke-width="1.1"/>
<rect x="668.5" y="942.4" width="5.4" height="5.4" fill="#f25c62" stroke="#050505" stroke-width="1.1"/>
<rect x="688.8" y="970.7" width="5.4" height="5.4" fill="#f25c62" stroke="#050505" stroke-width="1.1"/>
<rect x="695.9" y="971.9" width="5.4" height="5.4" fill="#f25c62" stroke="#050505" stroke-width="1.1"/>
<circle cx="228" cy="14.5" r="2.5" fill="#111" stroke="#050505" stroke-width="0.5"/>
<rect x="225.55" y="20.95" width="4.9" height="4.9" fill="#111" stroke="#050505" stroke-width="0.5"/>
<polygon points="230.38,33.77 228,35.15 225.62,33.77 225.62,31.02 228,29.65 230.38,31.02" fill="#111" stroke="#050505" stroke-width="0.5"/>
<polygon points="290.3,11.7 293.15,16.7 287.45,16.7" fill="#111" stroke="#050505" stroke-width="0.5"/>
<polygon points="290.3,19.9 292.55,23.4 290.3,26.9 288.05,23.4" fill="#111" stroke="#050505" stroke-width="0.5"/>
<text x="234.4" y="17.2" font-size="8.6" font-weight="normal" font-style="italic" text-anchor="start" fill="#111" stroke="#111" stroke-width="0.25">Ae. vexans</text>
<text x="234.4" y="26.1" font-size="8.6" font-weight="normal" font-style="italic" text-anchor="start" fill="#111" stroke="#111" stroke-width="0.25">C. richiardii</text>
<text x="234.4" y="35.1" font-size="8.6" font-weight="normal" font-style="italic" text-anchor="start" fill="#111" stroke="#111" stroke-width="0.25">O. sticticus</text>
<text x="296.8" y="17.2" font-size="8.6" font-weight="normal" font-style="italic" text-anchor="start" fill="#111" stroke="#111" stroke-width="0.25">O. annulipes</text>
<text x="296.8" y="26.1" font-size="8.6" font-weight="normal" font-style="italic" text-anchor="start" fill="#111" stroke="#111" stroke-width="0.25">O. cantans</text>
<rect x="296" y="1081.3" width="18" height="15.6" fill="#fb5b61" stroke="#111" stroke-width="1.6"/>
<text x="320.8" y="1097.1" font-size="15.3" font-weight="normal" font-style="normal" text-anchor="start" fill="#111" >Infected</text>
<rect x="390" y="1081.3" width="19.8" height="16.5" fill="#dcf2de" stroke="#111" stroke-width="1.6"/>
<text x="417.4" y="1097.1" font-size="15.3" font-weight="normal" font-style="normal" text-anchor="start" fill="#111" >Non-infected</text>
</svg></body></html>
